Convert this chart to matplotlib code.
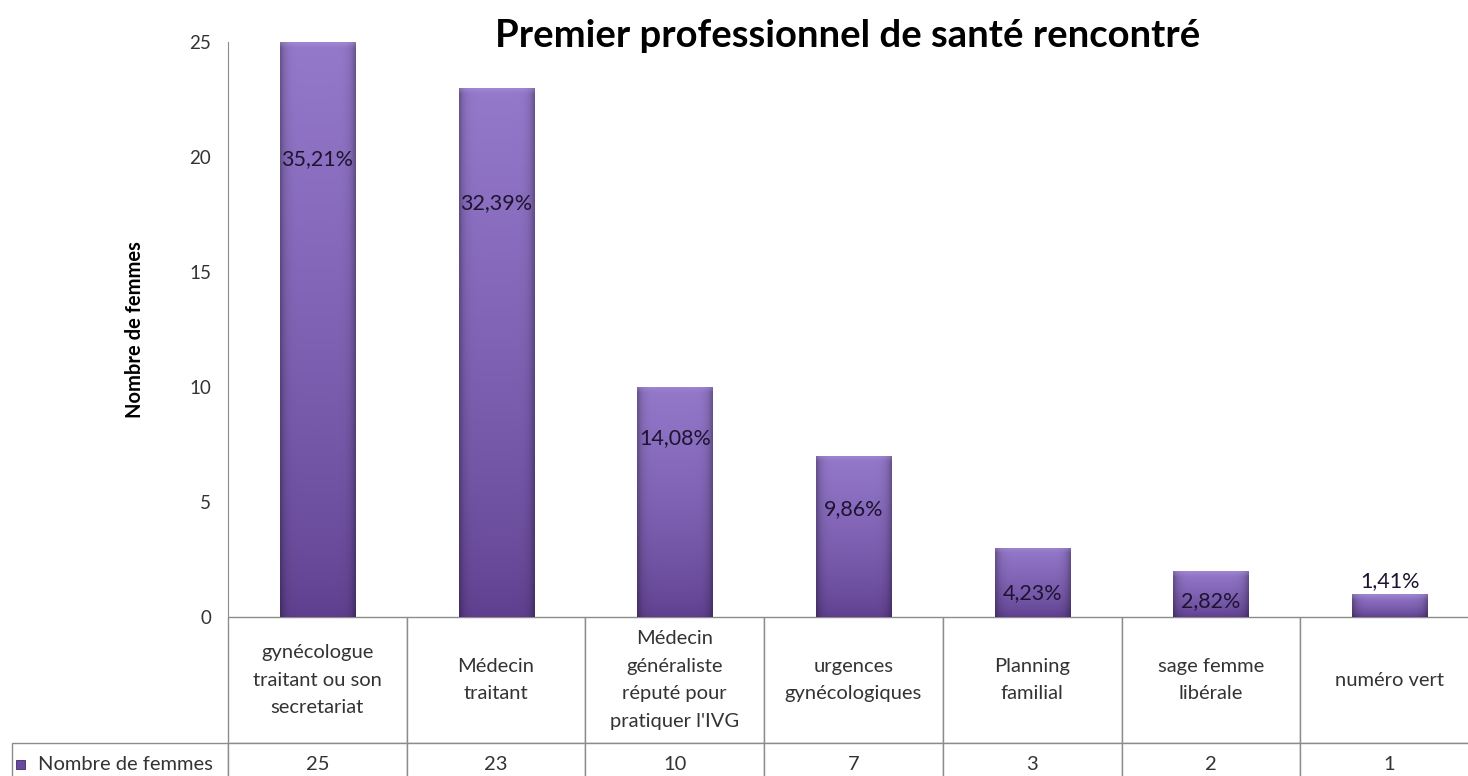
import numpy as np
import matplotlib.pyplot as plt
from matplotlib.patches import Rectangle
from matplotlib.colors import to_rgb

# data
categories = ["gynécologue\ntraitant ou son\nsecretariat",
              "Médecin\ntraitant",
              "Médecin\ngénéraliste\nréputé pour\npratiquer l'IVG",
              "urgences\ngynécologiques",
              "Planning\nfamilial",
              "sage femme\nlibérale",
              "numéro vert"]
counts = [25, 23, 10, 7, 3, 2, 1]
series_name = "Nombre de femmes"
title = "Premier professionnel de santé rencontré"
yticks = [0, 5, 10, 15, 20, 25]

# where the percent labels sit (data units), as placed by hand in the original
label_y = [19.9, 18.0, 7.8, 4.7, 1.05, 0.7, 1.55]

FONT = ["Lato", "DejaVu Sans"]
plt.rcParams['font.family'] = FONT

W, H = 1468, 776
fig = plt.figure(figsize=(W / 100, H / 100), dpi=100)

ax_left, ax_right = 228, 1479
ax_top, ax_bottom = 42, 617
ax_w = ax_right - ax_left
ax_h = ax_bottom - ax_top
ax = fig.add_axes([ax_left / W, 1 - ax_bottom / H, ax_w / W, ax_h / H])

x = np.arange(len(counts))
bar_w = 0.42
bars = ax.bar(x, counts, width=bar_w, color="#7A5AAE", edgecolor="none", zorder=2)

# bevel-ish gradient on every bar
light = np.array(to_rgb("#9478CA"))
dark = np.array(to_rgb("#50307F"))
ny, nx = 200, 60
vy = np.linspace(0, 1, ny)[:, None]          # 0 bottom -> 1 top
hx = np.linspace(-1, 1, nx)[None, :]
edge = 1 - 0.3 * np.abs(hx) ** 8
for b in bars:
    h = b.get_height()
    t = 0.2 + 0.8 * vy ** 0.7
    img = (dark[None, None, :] * (1 - t[..., None]) + light[None, None, :] * t[..., None])
    img = img * edge[..., None]
    # lighter rim at the top
    rim = np.clip((vy - (1 - 0.25 / h)) / (0.25 / h), 0, 1)
    img = img * (1 - 0.35 * rim[..., None]) + 0.35 * rim[..., None] * np.array(to_rgb("#B9A2E0"))
    img = np.clip(img, 0, 1)
    x0 = b.get_x()
    im = ax.imshow(img, extent=[x0, x0 + b.get_width(), 0, h], origin="lower",
                   aspect="auto", zorder=3, interpolation="bilinear")
    im.set_clip_path(b)

total = sum(counts)
for i, c in enumerate(counts):
    pct = f"{100 * c / total:.2f}%".replace(".", ",")
    ax.text(i, label_y[i], pct, ha="center", va="center", fontsize=15.5,
            color="#1E1430", zorder=5)

ax.set_xlim(-0.5, len(counts) - 0.5)
ax.set_ylim(0, 25)
ax.set_yticks(yticks)
ax.tick_params(axis="y", length=0, pad=12, labelsize=13.5, labelcolor="#333333")
ax.set_xticks([])
for s in ["top", "right", "bottom"]:
    ax.spines[s].set_visible(False)
ax.spines["left"].set_color("#8C8C8C")

ax.set_ylabel(series_name, fontsize=14.5, fontweight="bold", labelpad=32)
ax.set_title(title, fontsize=27.5, fontweight="bold", x=0.495, y=1.0, pad=-3.6)

# data table under the plot
label_w = ax_left - 12
col_w = ax_w / len(counts)
row1_h = 743 - ax_bottom
row2_h = 42
cell_text = [[series_name] + [str(c) for c in counts]]
col_labels = [""] + categories
tbl = ax.table(cellText=cell_text, colLabels=col_labels,
               colWidths=[label_w] + [col_w] * len(counts),
               cellLoc="center",
               bbox=[-label_w / ax_w, -(row1_h + row2_h) / ax_h,
                     (label_w + ax_w) / ax_w, (row1_h + row2_h) / ax_h])
tbl.auto_set_font_size(False)
for (r, c), cell in tbl.get_celld().items():
    cell.set_edgecolor("#8C8C8C")
    cell.set_linewidth(1.0)
    cell.set_height(row1_h if r == 0 else row2_h)
    cell.get_text().set_fontsize(14.5)
    cell.get_text().set_color("#333333")
    cell.get_text().set_linespacing(1.75)
    cell.get_text().set_fontfamily(FONT)
tbl[0, 0].visible_edges = ""
lab = tbl[1, 0]
lab._loc = "left"
lab.PAD = 26 / label_w
lab.get_text().set_horizontalalignment("left")

# little legend key in the row label
fig.add_artist(Rectangle((16 / W, 1 - 769 / H), 9 / W, 9 / H,
                         transform=fig.transFigure, facecolor="#6A4A9E",
                         edgecolor="#3E2A66", linewidth=0.6))

fig.savefig("out.png", dpi=100)
